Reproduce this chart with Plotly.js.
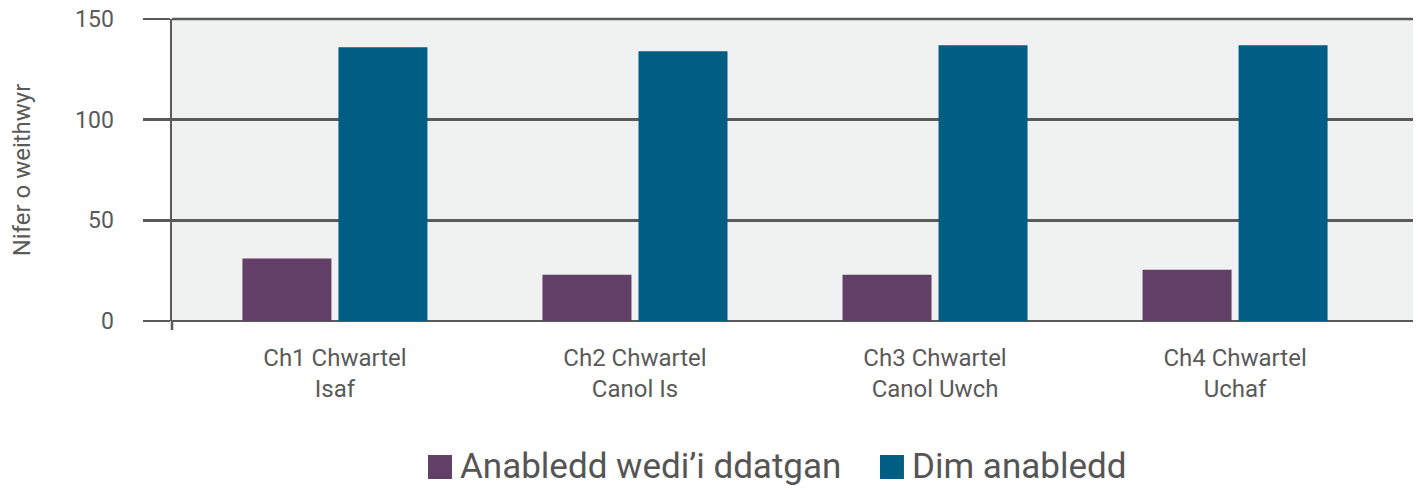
<!DOCTYPE html>
<html>
<head>
<meta charset="utf-8">
<script src="https://cdn.plot.ly/plotly-3.0.1.min.js"></script>
<style>
html,body{margin:0;padding:0;background:#fff;}
#chart{width:1423px;height:490px;}
</style>
</head>
<body>
<div id="chart"></div>
<script>
const categories = ["Ch1 Chwartel<br>Isaf", "Ch2 Chwartel<br>Canol Is", "Ch3 Chwartel<br>Canol Uwch", "Ch4 Chwartel<br>Uchaf"];
const seriesNames = ["Anabledd wedi\u2019i ddatgan", "Dim anabledd"];
const seriesColors = ["#623f66", "#005d84"];
const disabledValues = [31, 23, 23, 25.5];
const notDisabledValues = [136, 134, 137, 137];
const yTickValues = [0, 50, 100, 150];
const yTitle = "Nifer o weithwyr";

const gray = "#5a5a5a";
const font = "Roboto, 'DejaVu Sans', sans-serif";

const traces = [
  {type: "bar", name: seriesNames[0], x: categories, y: disabledValues,
   marker: {color: seriesColors[0]}, hoverinfo: "skip"},
  {type: "bar", name: seriesNames[1], x: categories, y: notDisabledValues,
   marker: {color: seriesColors[1]}, hoverinfo: "skip"}
];

// manual legend (paper coordinates) so the plot area keeps its size
const legendSquares = [[0.2063, 0.2256], [0.5705, 0.5898]];
const legendTextX = [0.2305, 0.5947];
const shapes = [
  {type: "line", xref: "paper", yref: "paper", x0: 0, x1: 0, y0: 0, y1: -0.03,
   line: {color: gray, width: 2.5}},
  {type: "line", xref: "paper", yref: "paper", x0: 0, x1: 1, y0: 1, y1: 1,
   line: {color: gray, width: 2.5}, layer: "above"}
];
const annotations = [];
seriesNames.forEach(function(name, i){
  shapes.push({type: "rect", xref: "paper", yref: "paper",
    x0: legendSquares[i][0], x1: legendSquares[i][1], y0: -0.4437, y1: -0.5232,
    fillcolor: seriesColors[i], line: {width: 0}});
  annotations.push({xref: "paper", yref: "paper", x: legendTextX[i], y: -0.4834,
    xanchor: "left", yanchor: "middle", showarrow: false, text: name,
    font: {size: 35, color: "#555555", family: font}});
});

const layout = {
  width: 1423, height: 490,
  margin: {l: 172, r: 10, t: 19, b: 169},
  paper_bgcolor: "#ffffff",
  plot_bgcolor: "#f0f1f1",
  barmode: "group",
  bargap: 0.36,
  bargroupgap: 0.073,
  font: {family: font, color: gray},
  showlegend: false,
  xaxis: {
    type: "category",
    range: [-0.543, 3.593],
    showgrid: false, zeroline: false,
    showline: false,
    ticks: "", ticklabelstandoff: 20,
    tickfont: {size: 24, color: gray, family: font},
    fixedrange: true
  },
  yaxis: {
    range: [0, 150],
    tickvals: yTickValues,
    ticktext: yTickValues.map(String),
    showgrid: true, gridcolor: gray, gridwidth: 2.5,
    zeroline: true, zerolinecolor: gray, zerolinewidth: 2.5,
    showline: true, linecolor: gray, linewidth: 2.5,
    ticks: "outside", ticklen: 27, tickwidth: 2.5, tickcolor: gray,
    ticklabelstandoff: 24,
    tickfont: {size: 23, color: gray, family: font},
    title: {text: yTitle, font: {size: 24, color: gray, family: font}, standoff: 38},
    fixedrange: true
  },
  shapes: shapes,
  annotations: annotations
};

Plotly.newPlot("chart", traces, layout, {displayModeBar: false, staticPlot: true});
</script>
</body>
</html>
